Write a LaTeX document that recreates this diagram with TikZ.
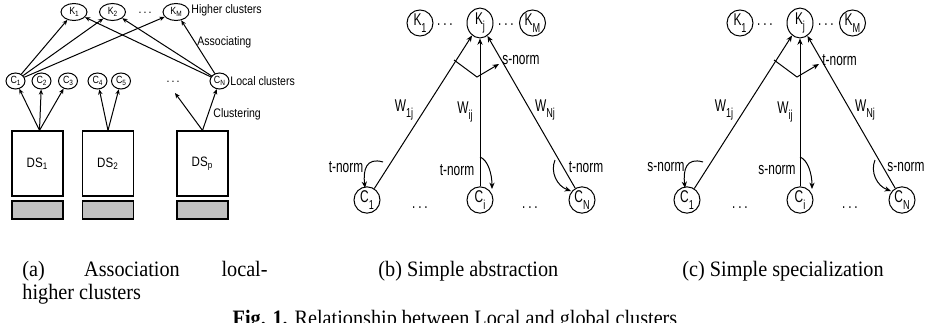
\documentclass[tikz,border=0pt]{standalone}
\usepackage{fontspec}
\setmainfont{Liberation Serif}
\newfontfamily\capfont[FakeStretch=0.92]{Liberation Serif}
\newfontfamily\asans[FakeStretch=0.85]{Liberation Sans}
\newfontfamily\bsans[FakeStretch=0.7]{Liberation Sans}
\usetikzlibrary{shapes.geometric,arrows.meta}
\definecolor{boxgray}{RGB}{192,192,192}
\newcommand\subA[2]{#1\raisebox{-0.35ex}{\fontsize{3.8}{4}\selectfont #2}}
\newcommand\subB[2]{#1\raisebox{-0.75ex}{\fontsize{6.5}{7}\selectfont #2}}
\newcommand\normpanel[3]{%
  \node[kb] (#1K1) at (420,23) {\subB{K}{1}};
  \node[lblb] (#1d1) at (445,25) {.\,.\,.};
  \node[kb] (#1Kj) at (480,23) {\subB{K}{j}};
  \node[lblb] (#1d2) at (506,25) {.\,.\,.};
  \node[kb] (#1KM) at (532.5,23) {\subB{K}{M}};
  \node[cb] (#1C1) at (367,200) {\subB{C}{1}};
  \node[lblb] (#1d3) at (420,208) {.\,.\,.};
  \node[cb] (#1Ci) at (480,200) {\subB{C}{i}};
  \node[lblb] (#1d4) at (530,208) {.\,.\,.};
  \node[cb] (#1CN) at (582,200) {\subB{C}{N}};
  \draw[arr] (#1C1) -- (#1Kj);
  \draw[arr] (#1Ci) -- (#1Kj);
  \draw[arr] (#1CN) -- (#1Kj);
  \coordinate (#1v1) at (454,60);
  \coordinate (#1v2) at (477,77);
  \coordinate (#1v3) at (499,64);
  \draw[arr] (#1v1) -- (#1v2) -- (#1v3);
  \node[lblb,anchor=west] (#1top) at (502,60) {#2};
  \node[lblb] (#1W1) at (404,110) {\subB{W}{1j}};
  \node[lblb] (#1Wi) at (465,112) {\subB{W}{ij}};
  \node[lblb] (#1WN) at (545,110) {\subB{W}{Nj}};
  \coordinate (#1a1) at (383,162);
  \coordinate (#1b1) at (365,188);
  \draw[arr] (#1a1) .. controls (366,157) and (363,170) .. (#1b1);
  \coordinate (#1a2) at (480,157);
  \coordinate (#1b2) at (492,189);
  \draw[arr] (#1a2) .. controls (488,160) and (492,174) .. (#1b2);
  \coordinate (#1a3) at (555,160);
  \coordinate (#1b3) at (571,191);
  \draw[arr] (#1a3) .. controls (550,172) and (557,186) .. (#1b3);
  \node[lblb] (#1n1) at (346,167) {#3};
  \node[lblb] (#1n2) at (457,170) {#3};
  \node[lblb] (#1n3) at (586,167) {#3};
}
\begin{document}
\begin{tikzpicture}[x=0.5pt,y=-0.5pt,
  every node/.style={inner sep=0pt},
  ln/.style={line width=0.5pt},
  arr/.style={ln,-{Stealth[length=3.2pt,width=2.6pt]}},
  arra/.style={ln,-{Stealth[length=2.6pt,width=2.2pt]}},
  ka/.style={ellipse,draw,line width=0.5pt,minimum width=13pt,minimum height=8.5pt,font=\asans\fontsize{5.2}{6}\selectfont},
  ca/.style={ellipse,draw,line width=0.5pt,minimum width=9.5pt,minimum height=8pt,font=\asans\fontsize{5.2}{6}\selectfont},
  lbla/.style={font=\asans\fontsize{6.2}{7}\selectfont,anchor=west},
  kb/.style={ellipse,draw,line width=0.5pt,minimum width=13pt,minimum height=10pt,font=\bsans\fontsize{8.5}{9}\selectfont},
  cb/.style={ellipse,draw,line width=0.5pt,minimum width=13pt,minimum height=11pt,font=\bsans\fontsize{8.5}{9}\selectfont},
  lblb/.style={font=\bsans\fontsize{8.5}{9}\selectfont},
  captxt/.style={font=\capfont\fontsize{11}{13}\selectfont},
  dsbox/.style={draw,line width=0.6pt,minimum width=25.5pt,minimum height=32.5pt,font=\asans\fontsize{6.8}{7}\selectfont},
  grbox/.style={draw,fill=boxgray,line width=0.6pt,minimum width=25.5pt,minimum height=9pt}
]
\clip (0,0) rectangle (927,322);
\fill[white] (0,0) rectangle (927,322);
% ---------- panel (a)
\node[ka] (K1) at (74,12) {\subA{K}{1}};
\node[ka] (K2) at (112.5,12) {\subA{K}{2}};
\node[lbla,anchor=center] (kd) at (145,13) {.\,.\,.};
\node[ka] (KM) at (176,12) {\subA{K}{M}};
\node[lbla] (hc) at (191,10) {Higher clusters};
\node[ca] (C1) at (15.5,81) {\subA{C}{1}};
\node[ca] (C2) at (41.5,81) {\subA{C}{2}};
\node[ca] (C3) at (68,81) {\subA{C}{3}};
\node[ca] (C4) at (97.5,81) {\subA{C}{4}};
\node[ca] (C5) at (121,81) {\subA{C}{5}};
\node[lbla,anchor=center] (cd) at (173,82) {.\,.\,.};
\node[ca] (CN) at (219.5,81) {\subA{C}{N}};
\node[lbla] (lc) at (230,81) {Local clusters};
\node[lbla] (as) at (197,42) {Associating};
\node[lbla] (cl) at (213,114) {Clustering};
\foreach \c in {C1,CN} \foreach \k in {K1,K2,KM} \draw[arra] (\c) -- (\k);
\node[dsbox] (DS1) at (37.5,163.5) {DS\textsubscript{1}};
\node[dsbox] (DS2) at (108,163.5) {DS\textsubscript{2}};
\node[dsbox] (DSp) at (202.5,163.5) {DS\textsubscript{p}};
\node[grbox] (G1) at (37.5,210) {};
\node[grbox] (G2) at (108,210) {};
\node[grbox] (Gp) at (202.5,210) {};
\foreach \c in {C1,C2,C3} \draw[arra] ([xshift=1pt]DS1.north) -- (\c);
\foreach \c in {C4,C5} \draw[arra] (DS2.north) -- (\c);
\draw[arra] (DSp.north) -- (CN);
\coordinate (pd) at (175,93);
\draw[arra] (DSp.north) -- (pd);
% ---------- panel (b)
\normpanel{b}{s-norm}{t-norm}
% ---------- panel (c)
\begin{scope}[xshift=160pt]
\normpanel{c}{t-norm}{s-norm}
\end{scope}
% ---------- captions
\node[captxt,anchor=base west] (ca1) at (22,276) {(a)};
\node[captxt,anchor=base] (ca2) at (132,276) {Association};
\node[captxt,anchor=base east] (ca3) at (268,276) {local-};
\node[captxt,anchor=base west] (ca4) at (22,299) {higher clusters};
\node[captxt,anchor=base west] (cb1) at (378,276) {(b) Simple abstraction};
\node[captxt,anchor=base west] (cc1) at (682,276) {(c) Simple specialization};
\node[captxt,anchor=base] (fig) at (455,325) {\textbf{Fig. 1.} Relationship between Local and global clusters};
\end{tikzpicture}
\end{document}
